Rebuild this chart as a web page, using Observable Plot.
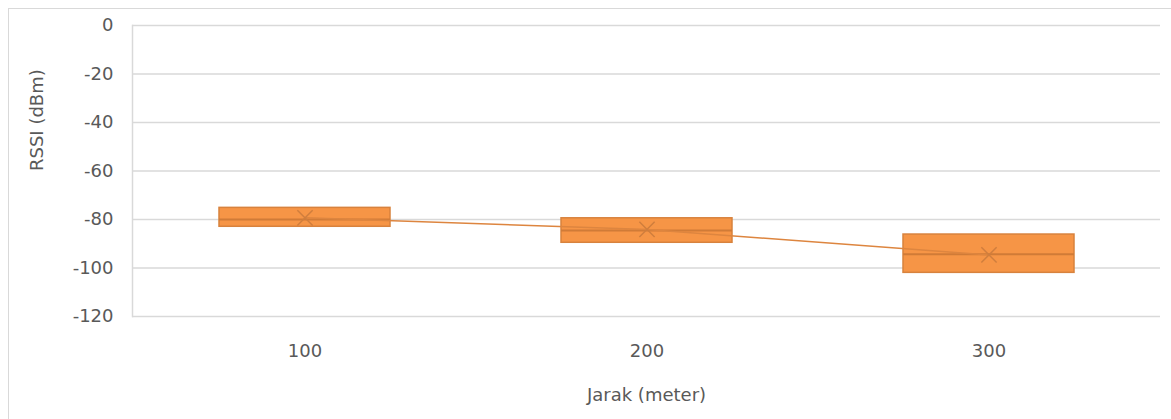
<!DOCTYPE html>
<html>
<head>
<meta charset="utf-8">
<script src="https://cdn.jsdelivr.net/npm/d3@7"></script>
<script src="https://cdn.jsdelivr.net/npm/@observablehq/plot@0.6"></script>
<style>
  html, body { margin: 0; padding: 0; background: #fff; overflow: hidden; }
  #wrap { position: relative; width: 1171px; height: 419px; }
  #border { position: absolute; left: 8px; top: 8px; width: 1400px; height: 800px;
            border: 1px solid #d9d9d9; box-sizing: border-box; pointer-events: none; }
  #chart { position: absolute; left: 0; top: 0; }
</style>
</head>
<body>
<div id="wrap"><div id="border"></div><div id="chart"></div></div>
<script>
// RSSI measurements by distance: box from Q1 to Q3, median line, mean marker
const distances = ["100", "200", "300"];
const q1Values = [-83, -89.6, -102];
const q3Values = [-75.2, -79.5, -86.2];
const medianValues = [-80, -84.5, -94.3];
const meanValues = [-79.3, -84.1, -94.6];
const yTicks = [0, -20, -40, -60, -80, -100, -120];
const xTitle = "Jarak (meter)";
const yTitle = "RSSI (dBm)";

const rows = distances.map((d, i) => ({
  distance: d, q1: q1Values[i], q3: q3Values[i], median: medianValues[i], mean: meanValues[i]
}));

const textColor = "#595959";
const gridColor = "#d9d9d9";
const font = "DejaVu Sans, sans-serif";

const chart = Plot.plot({
  width: 1171,
  height: 419,
  marginLeft: 132,
  marginRight: 11,
  marginTop: 25,
  marginBottom: 103,
  style: { fontFamily: font, fontSize: "18px", color: textColor, background: "transparent", overflow: "visible" },
  x: { domain: distances, paddingInner: 0.5, paddingOuter: 0.25, label: null },
  y: { domain: [-120, 0], label: null },
  marks: [
    Plot.ruleY(yTicks, { stroke: gridColor, strokeWidth: 1.5 }),
    Plot.frame({ anchor: "left", stroke: gridColor, strokeWidth: 1.5 }),
    Plot.axisY(yTicks, { tickSize: 0, tickPadding: 19, tickFormat: d => String(d), fill: textColor, fontSize: 18, label: null }),
    Plot.axisX({ tickSize: 0, tickPadding: 28, fill: textColor, fontSize: 18, label: null }),
    Plot.barY(rows, { x: "distance", y1: "q1", y2: "q3", fill: "#f69546", stroke: "#d8823d", strokeWidth: 1.5 }),
    Plot.tickY(rows, { x: "distance", y: "median", stroke: "#d07b37", strokeWidth: 2 }),
    Plot.line(rows, { x: "distance", y: "mean", stroke: "#dd853f", strokeWidth: 1.5 }),
    Plot.dot(rows, { x: "distance", y: "mean", symbol: "times", r: 7, stroke: "#d07e3d", strokeWidth: 1.5 }),
    Plot.text([xTitle], { text: d => d, frameAnchor: "bottom", dy: 84, fill: textColor, fontSize: 18 }),
    Plot.text([yTitle], { text: d => d, frameAnchor: "left", dx: -95, rotate: -90, fill: textColor, fontSize: 18 })
  ]
});

document.getElementById("chart").appendChild(chart);
</script>
</body>
</html>
